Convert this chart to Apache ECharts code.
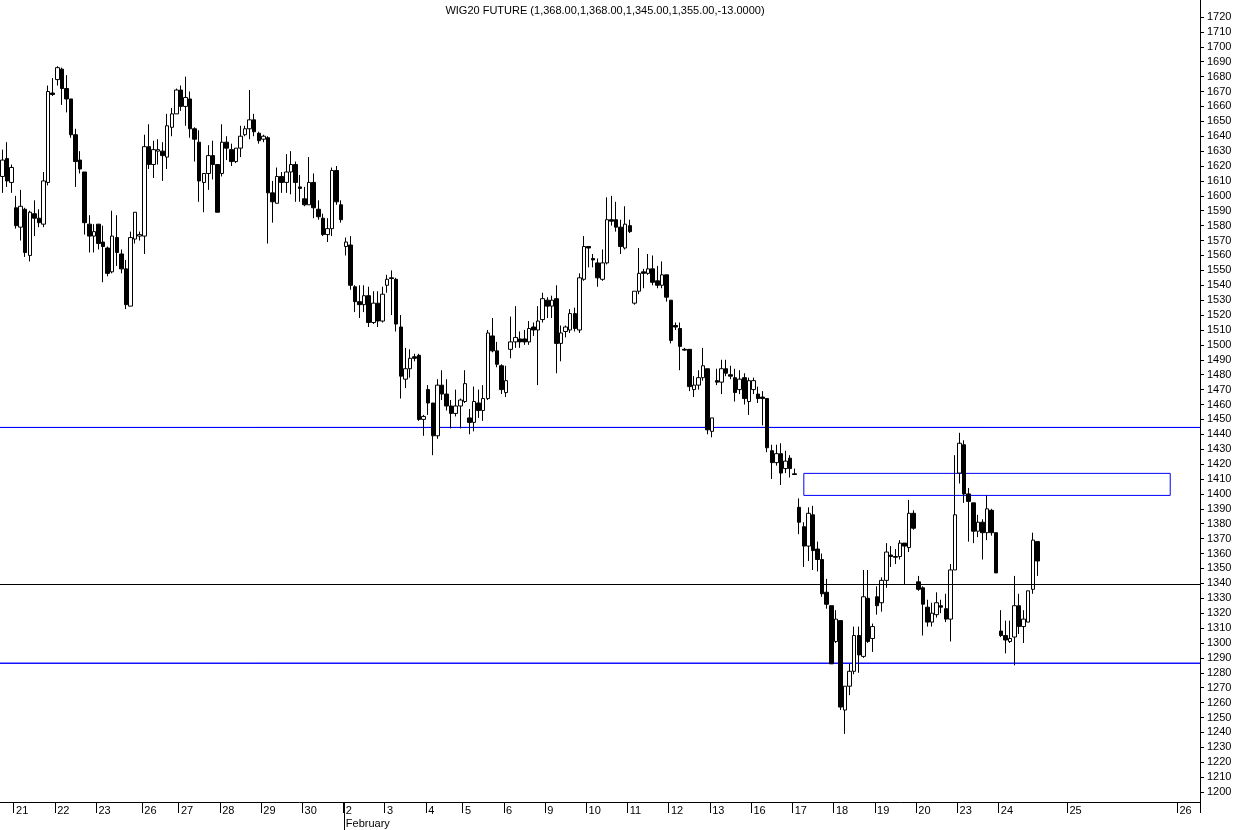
<!DOCTYPE html>
<html><head><meta charset="utf-8">
<script src="https://cdn.jsdelivr.net/npm/echarts@6/dist/echarts.min.js"></script>
<style>html,body{margin:0;padding:0;background:#fff}#c{width:1250px;height:830px}</style>
</head><body><div id="c"></div>
<script>
const titleText = 'WIG20 FUTURE (1,368.00,1,368.00,1,345.00,1,355.00,-13.0000)';

const opens = [
1613,1625,1609,1592,1579,1591,1560,1588,1585,1581,
1609,1669,1678,1685,1672,1665,1641,1624,1616,1581,
1573,1581,1569,1565,1549,1572,1561,1551,1526,1571,
1573,1573,1633,1621,1630,1630,1626,1646,1655,1671,
1660,1665,1645,1636,1609,1615,1627,1621,1615,1636,
1631,1623,1632,1641,1645,1651,1642,1638,1639,1602,
1595,1613,1609,1616,1621,1606,1598,1594,1609,1591,
1585,1574,1578,1617,1594,1566,1567,1539,1529,1527,
1533,1515,1528,1516,1540,1545,1544,1512,1477,1484,
1492,1493,1450,1470,1461,1439,1473,1467,1459,1454,
1459,1462,1451,1448,1461,1456,1464,1506,1496,1486,
1468,1497,1502,1504,1504,1502,1512,1510,1517,1530,
1526,1531,1501,1509,1510,1521,1510,1544,1566,1558,
1555,1544,1555,1584,1584,1579,1565,1580,1528,1536,
1549,1548,1551,1543,1540,1547,1530,1513,1511,1497,
1497,1470,1473,1478,1484,1442,1476,1475,1484,1480,
1478,1470,1478,1462,1470,1467,1465,1464,1429,1421,
1427,1417,1424,1413.5,1391,1378,1365,1386,1363,1356,
1334,1325,1301,1315,1255,1271,1281,1305,1291,1330,
1303,1331,1327,1342,1359,1358,1358,1367,1364,1387,
1341,1337,1324,1314,1319,1325,1323,1316,1349,1414,
1433,1400,1394,1375,1381,1374,1389,1374,1308,1305,
1301,1304,1325,1311,1314,1336,1368];

const closes = [
1624,1610,1619,1580,1593,1562,1589,1585,1582,1610,
1670,1668,1686,1672,1665,1641,1623,1618,1582,1573,
1576,1568,1566,1548,1573,1562,1551,1527,1572,1589,
1574,1633,1621,1631,1631,1627,1647,1655,1671,1660,
1666,1645,1638,1610,1615,1627,1621,1589,1636,1632,
1623,1632,1640,1645,1651,1643,1637,1640,1602,1596,
1613,1609,1616,1621,1609,1605,1594,1609,1592,1586,
1574,1578,1617,1596,1584,1569,1540,1529,1527,1533,
1515,1528,1516,1534,1544,1544.5,1514,1479,1484,1491,
1491,1450,1452,1461,1439,1473,1467,1459,1454,1459,
1463,1474,1448,1462,1456,1464,1508,1496,1487,1470,
1476,1502,1505,1502,1502,1511,1510,1516,1531,1526,
1530,1501,1508,1512,1521,1511,1545,1566,1565,1557,
1545,1555,1584,1583,1579,1566,1581,1576,1536,1548,
1548,1551,1542,1540,1547,1532,1503,1512,1499,1496.5,
1472,1473,1478,1486,1443,1451,1475,1484,1481,1479,
1468,1477,1464,1476,1476,1464,1464,1431,1421,1427,
1414,1422,1417,1413,1381,1365,1387,1362,1356,1333,
1326,1286,1316,1257,1271,1281,1305,1292,1331,1301,
1311,1325,1342,1361,1358,1357.5,1367,1365,1387,1377,
1336,1326,1314,1320,1327,1324,1316,1349,1386,1434,
1400,1395,1375,1381,1374,1390,1374,1347,1305,1302,
1303,1325,1311,1316,1335,1369,1355];

const lows = [
1602,1606,1602,1578,1570,1559,1556,1573,1579,1579,
1607,1667,1674,1661,1656,1639,1606,1615,1574,1562,
1562,1564,1542,1546,1548,1553,1548,1524,1526,1568,
1570,1561,1618,1612,1621,1610,1618,1640,1655,1657,
1647,1639,1623,1596,1589,1604,1611,1589,1613,1624,
1620,1622,1626,1640,1638,1640,1635,1636,1568,1582,
1595,1602,1602,1601,1596,1596,1593,1594,1585,1584,
1573,1569,1573,1594,1582,1560,1537,1522,1518,1522,
1512,1514,1512,1515,1535,1520,1509,1464,1471,1478,
1489,1449,1439,1453,1426,1437,1463,1456,1444,1452,
1444,1461,1440,1442,1451,1449,1463,1495,1485,1467,
1465,1491,1498,1498,1500,1500,1506,1473,1515,1518,
1518,1481,1489,1505,1508,1509,1508,1543,1552,1552,
1539,1543,1554,1580,1576,1561,1564,1575,1527,1534,
1538,1547,1540,1538,1538,1529,1501,1510,1483,1496,
1469,1465,1470,1476,1440,1438,1473,1467,1479,1477,
1462,1467,1460,1453,1467,1461,1446,1428,1410,1419,
1406,1414,1411,1413,1373,1351,1355,1349,1348,1331,
1323,1286,1300,1255,1239,1265,1279,1280,1290,1300,
1294,1319,1321,1337,1351,1353,1356,1339,1361,1376,
1335,1305,1311,1311,1317,1320,1314,1301,1349,1407,
1394,1368,1367,1371,1356,1369,1372,1347,1304,1293,
1300,1285,1306,1300,1314,1333,1345];

const highs = [
1631,1636,1621,1600,1604,1592,1590,1597,1591,1616,
1674,1679,1687,1686,1681,1665,1645,1630,1616,1587,
1581,1581,1580,1566,1590,1587,1564,1557,1576,1589,
1576,1641,1648,1637,1638,1636,1655,1659,1672,1674,
1680,1670,1646,1644,1615,1634,1637,1621,1648,1640,
1635,1632,1647,1647,1671,1655,1643,1641,1640,1610,
1619,1616,1628,1630,1623,1614,1606,1626,1615,1597,
1588,1585,1619,1620,1597,1572,1573,1540,1540,1540,
1539,1536,1536,1539,1547,1550,1545,1520,1498,1497,
1494,1494,1453,1473,1461,1477,1483,1477,1463,1470,
1464,1483,1457,1472,1470,1473,1510,1518,1502,1487,
1486,1519,1526,1509,1510,1516,1515,1526,1535,1532,
1533,1540,1513,1513,1524,1525,1548,1573,1566,1561,
1558,1564,1599,1600,1596,1584,1593,1584,1536,1565,
1551,1561,1560,1553,1556,1547,1530,1515,1515,1498,
1497,1479,1483,1498,1484,1451,1484,1490,1490,1486,
1484,1483,1481,1478,1478,1472,1469,1464,1433,1433,
1434,1429,1426,1417,1397,1381,1391,1392,1368,1360,
1343,1325,1322,1315,1271,1286,1311,1311,1349,1349,
1313,1338,1344,1367,1365,1363,1369,1367,1396,1389,
1345,1338,1329,1327,1334,1329,1333,1353,1426,1441,
1436,1404,1394,1386,1383,1399,1390,1374,1322,1315,
1315,1345,1333,1322,1335,1374,1368];

const dayLabels = ['21','22','23','26','27','28','29','30','2','3','4','5','6','9','10','11','12','13','16','17','18','19','20','23','24','25','26'];
const daySlots  = [3,12,21,31,39,48,57,66,75,84,93,101,110,119,128,137,146,155,164,173,182,191,200,209,218,233,257];
const monthLabel = 'February';
const monthSlot = 75;
const slotCount = 262;

const yTicks = [1200,1210,1220,1230,1240,1250,1260,1270,1280,1290,1300,1310,1320,1330,1340,1350,1360,1370,1380,1390,1400,1410,1420,1430,1440,1450,1460,1470,1480,1490,1500,1510,1520,1530,1540,1550,1560,1570,1580,1590,1600,1610,1620,1630,1640,1650,1660,1670,1680,1690,1700,1710,1720];
const yMin = 1193.3, yMax = 1731.4;

const blueLevels = [1444.6, 1286.4];
const blackLevels = [1339.4];
const zoneSlots = ['175', '255'];
const zoneValues = [1413.8, 1399];

const chart = echarts.init(document.getElementById('c'), null, {renderer: 'canvas'});
const cats = Array.from({length: slotCount}, (_, i) => String(i));
const labelAt = {};
daySlots.forEach((s, i) => { labelAt[s] = dayLabels[i]; });
labelAt[monthSlot] = labelAt[monthSlot] + '\n' + monthLabel;
const isDay = (i) => labelAt[i] !== undefined;
const candles = opens.map((o, i) => [o, closes[i], lows[i], highs[i]]);

const zoneArea = [[{xAxis: zoneSlots[0], yAxis: zoneValues[0]}, {xAxis: zoneSlots[1], yAxis: zoneValues[1]}]];
const blueArea = blueLevels.map(v => [{yAxis: v}, {yAxis: v}]);

chart.setOption({
  animation: false,
  backgroundColor: '#ffffff',
  textStyle: {fontFamily: '"Liberation Sans", Arial, sans-serif'},
  title: {text: titleText, left: 600, top: 0, textAlign: 'center',
    textStyle: {fontSize: 11, fontWeight: 'normal', color: '#000', fontFamily: '"Liberation Sans", Arial, sans-serif'}},
  grid: {left: 0, right: 50, top: 0, bottom: 27, containLabel: false},
  xAxis: {
    type: 'category', data: cats, boundaryGap: true,
    axisLine: {show: true, lineStyle: {color: '#000', width: 1}},
    axisTick: {show: true, interval: (i) => isDay(i), length: 11, lineStyle: {color: '#000', width: 1}},
    axisLabel: {interval: (i) => isDay(i), formatter: (v) => labelAt[+v] || '', align: 'left',
      margin: 2, fontSize: 11, lineHeight: 13, color: '#000'},
    splitLine: {show: false}
  },
  yAxis: {
    type: 'value', position: 'right', min: yMin, max: yMax,
    axisLine: {show: true, lineStyle: {color: '#000', width: 1}},
    axisTick: {show: true, customValues: yTicks, length: 4, lineStyle: {color: '#000'}},
    axisLabel: {customValues: yTicks, formatter: (v) => String(Math.round(v)), fontSize: 11, color: '#000', margin: 7},
    splitLine: {show: false}
  },
  series: [{
    type: 'candlestick', data: candles, barWidth: 4, z: 3,
    itemStyle: {color: '#ffffff', color0: '#000000', borderColor: '#000000', borderColor0: '#000000',
      borderColorDoji: '#000000', borderWidth: 1},
    markLine: {silent: true, symbol: ['none', 'none'], label: {show: false},
      lineStyle: {type: 'solid', width: 1, color: '#000000'},
      data: blackLevels.map(v => ({yAxis: v}))},
    markArea: {silent: true, label: {show: false},
      itemStyle: {color: 'rgba(0,0,0,0)', borderColor: '#0000ff', borderWidth: 1},
      data: zoneArea.concat(blueArea)}
  }]
});

const band = 1200 / slotCount;
const mx = chart.convertToPixel({xAxisIndex: 0}, String(monthSlot)) - band / 2;
const by = chart.convertToPixel({yAxisIndex: 0}, yMin);
chart.setOption({graphic: [{type: 'line', silent: true,
  shape: {x1: Math.round(mx) + 0.5, y1: by, x2: Math.round(mx) + 0.5, y2: 830},
  style: {stroke: '#000', lineWidth: 1}}]});
</script>
</body></html>
